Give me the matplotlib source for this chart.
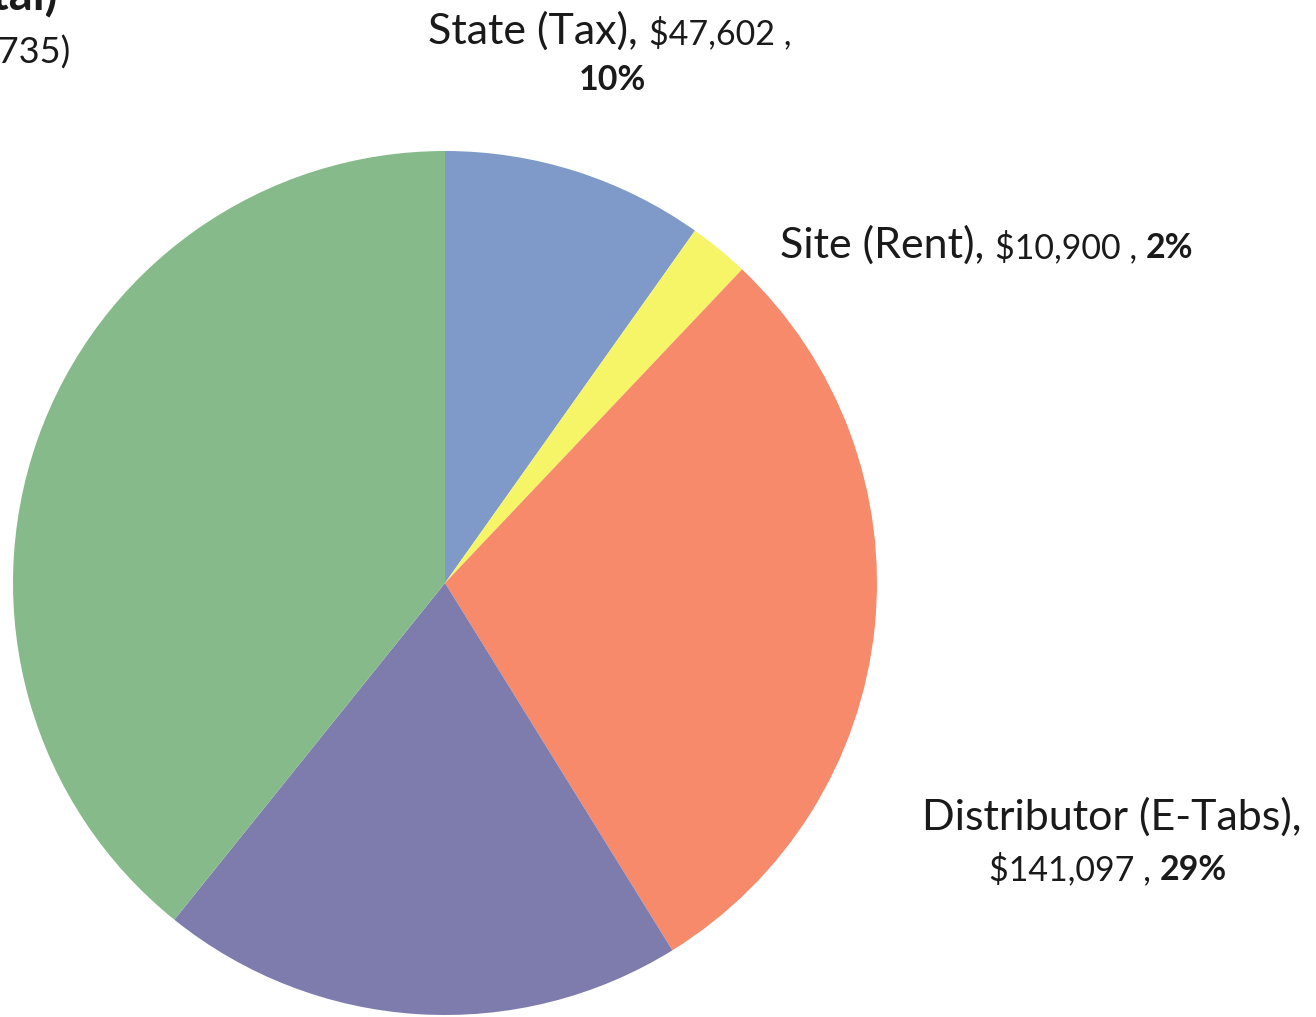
import numpy as np
import matplotlib
matplotlib.use("Agg")
import matplotlib.pyplot as plt

plt.rcParams['font.family'] = ['Lato', 'DejaVu Sans']

# slice data (clockwise from 12 o'clock)
categories = ["State (Tax)", "Site (Rent)", "Distributor (E-Tabs)", "Other A", "Other B"]
values = [47602, 10900, 141097, 95000, 190136]
colors = ["#7f9ac8", "#f6f467", "#f88a6c", "#7e7cad", "#86ba8a"]
total_text = "(Total $484,735)"

BIG, SMALL = 31, 24.5

W, H = 1316, 1017
fig = plt.figure(figsize=(W / 100, H / 100), dpi=100)
ax = fig.add_axes([0, 0, 1, 1])

ax.pie(values, colors=colors, startangle=90, counterclock=False,
       wedgeprops=dict(linewidth=0))

# pie centre at (445, 583) px from top-left, radius 432 px
cx, cy, r = 445, 583, 432
ax.set_aspect('auto')
ax.set_xlim(-cx / r, (W - cx) / r)
ax.set_ylim(-(H - cy) / r, cy / r)
ax.axis('off')

renderer = fig.canvas.get_renderer()


def px(x, y):
    return x / W, 1 - y / H


def chain(x, y, parts, ha='left'):
    # parts: list of (text, size, weight); drawn left to right on one baseline
    widths = []
    for s, size, weight in parts:
        t = fig.text(0, 0, s, fontsize=size, fontweight=weight, va='baseline')
        widths.append(t.get_window_extent(renderer).width)
        t.remove()
    total = sum(widths)
    start = x - total / 2 if ha == 'center' else (x - total if ha == 'right' else x)
    xx = start
    for (s, size, weight), w in zip(parts, widths):
        fig.text(*px(xx, y), s, fontsize=size, fontweight=weight,
                 va='baseline', ha='left', color='#1a1a1a')
        xx += w


# clipped title in the top-left corner (cut off in the source scan)
fig.text(*px(58, 10), "Expenses (Total)", fontsize=34, fontweight='bold',
         ha='right', va='baseline', color='#1a1a1a')
fig.text(*px(70, 63), total_text, fontsize=26, ha='right', va='baseline',
         color='#1a1a1a')

chain(428, 44, [(categories[0] + ", ", BIG, 'normal'), ("$47,602 ,", SMALL, 'normal')])
chain(612, 90, [("10%", SMALL, 'bold')], ha='center')

chain(780, 258, [(categories[1] + ", ", BIG, 'normal'),
                 ("$10,900 , ", SMALL, 'normal'), ("2%", SMALL, 'bold')])

chain(1302, 830, [(categories[2] + ",", BIG, 'normal')], ha='right')
chain(1108, 880, [("$141,097 , ", SMALL, 'normal'), ("29%", SMALL, 'bold')], ha='center')

fig.savefig("out.png", dpi=100)
